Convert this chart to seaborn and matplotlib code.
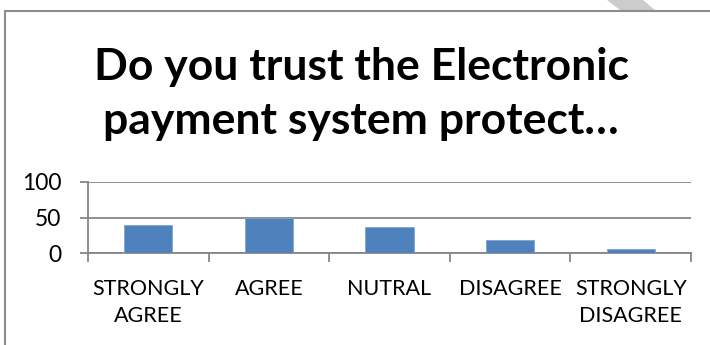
import matplotlib
matplotlib.use("Agg")
import matplotlib.pyplot as plt
from matplotlib.lines import Line2D
from matplotlib.patches import Polygon
import seaborn as sns
import pandas as pd

# Survey answers and their counts
categories = ["STRONGLY\nAGREE", "AGREE", "NUTRAL", "DISAGREE", "STRONGLY\nDISAGREE"]
counts = [39, 50, 36, 19, 5]
y_ticks = [0, 50, 100]
title_lines = ["Do you trust the Electronic", "payment system protect\u2026"]

BAR = "#4F81BD"
GRID = "#868686"
FONT = "Lato"

sns.set_theme(style="white")
plt.rcParams["font.family"] = [FONT, "DejaVu Sans"]

df = pd.DataFrame({"answer": categories, "count": counts})

W, H, DPI = 710, 345, 100
fig = plt.figure(figsize=(W / DPI, H / DPI), dpi=DPI)
fig.patch.set_facecolor("white")

ax = fig.add_axes([88 / W, 1 - 253 / H, 603 / W, 71 / H])
sns.barplot(data=df, x="answer", y="count", color=BAR, width=0.4,
            edgecolor="#7FA3D3", linewidth=0.6, saturation=1, ax=ax, zorder=3)

ax.set_xlim(-0.5, len(categories) - 0.5)
ax.set_ylim(0, 100)
ax.set_xlabel("")
ax.set_ylabel("")

# horizontal gridlines and axis lines
ax.set_yticks(y_ticks)
ax.set_yticklabels([str(v) for v in y_ticks], fontsize=16.5, color="black")
ax.yaxis.grid(True, color=GRID, linewidth=1.3, zorder=0)
ax.set_axisbelow(True)
for side in ("top", "right"):
    ax.spines[side].set_visible(False)
for side in ("left", "bottom"):
    ax.spines[side].set_visible(True)
    ax.spines[side].set_color(GRID)
    ax.spines[side].set_linewidth(1.3)
ax.tick_params(axis="y", length=6, width=1.3, color=GRID, pad=13, left=True)

# category tick marks sit between bars, labels at bar centres
n = len(categories)
ax.set_xticks([i - 0.5 for i in range(n + 1)])
ax.set_xticklabels([""] * (n + 1))
ax.set_xticks(list(range(n)), minor=True)
ax.set_xticklabels(categories, minor=True, fontsize=15.5, color="black",
                   linespacing=1.42, va="top")
ax.tick_params(axis="x", which="major", length=6.5, width=1.3, color=GRID,
               bottom=True, direction="out")
ax.tick_params(axis="x", which="minor", length=0, pad=19)

# chart title
fig.text(361 / W, 1 - 80 / H, title_lines[0], ha="center", va="baseline",
         fontsize=32, fontweight="bold", color="black")
fig.text(361 / W, 1 - 134 / H, title_lines[1], ha="center", va="baseline",
         fontsize=32, fontweight="bold", color="black")

# chart area frame (left and top edges)
fig.add_artist(Line2D([5 / W, 5 / W], [0, 1 - 11 / H], transform=fig.transFigure,
                      color="#8C8C8C", linewidth=1.5))
fig.add_artist(Line2D([5 / W, 1], [1 - 11 / H, 1 - 11 / H], transform=fig.transFigure,
                      color="#8C8C8C", linewidth=1.5))
# page decoration above the frame
fig.add_artist(Polygon([(607 / W, 1), (643 / W, 1), (655 / W, 1 - 10 / H), (620 / W, 1 - 10 / H)],
                       closed=True, transform=fig.transFigure, facecolor="#CCCCCC",
                       edgecolor="none"))

fig.savefig("out.png", dpi=DPI, facecolor="white")
